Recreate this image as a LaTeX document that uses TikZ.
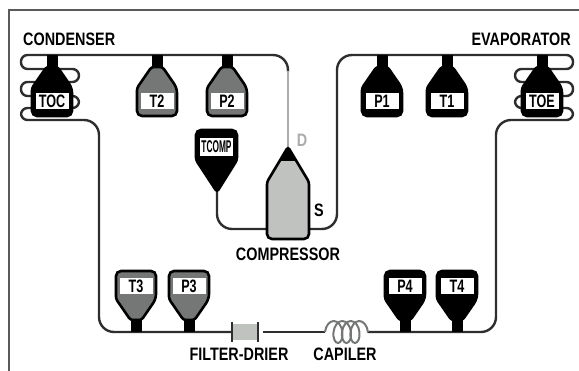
\documentclass[tikz,border=0pt]{standalone}
\usepackage{fontspec}
\setmainfont{Liberation Sans}
\newfontfamily\titlefont{Liberation Sans}[FakeStretch=.8]
\newfontfamily\tagfont{Liberation Sans}[FakeStretch=.7]
\newfontfamily\tinytagfont{Liberation Sans}[FakeStretch=.49]
\usetikzlibrary{decorations.pathmorphing}
\definecolor{pipecol}{HTML}{2E2E2E}
\definecolor{hotline}{HTML}{ABABAB}
\definecolor{midgray}{HTML}{757777}
\definecolor{shell}{HTML}{C0C2C0}
\definecolor{framecol}{HTML}{5A5A5A}
\tikzset{
  pipe/.style={draw=pipecol, line width=2.4pt, line join=round},
  title/.style={font=\titlefont\fontsize{18}{18}\selectfont\bfseries, text=black, inner sep=0pt},
  tag/.style={fill=white, minimum width=33pt, minimum height=16.5pt, inner sep=0pt, text=black,
    font=\tagfont\fontsize{18}{18}\selectfont\bfseries},
  pics/sensor/.style 2 args={code={
    \fill[black] (-5.5,0) rectangle (5.5,14);
    \draw[line width=2.6pt, draw=black, fill=#1, rounded corners=2.5pt]
      (-5.5,12) -- (-20,33) [rounded corners=5pt] -- (-20,61) -- (20,61) -- (20,33) [rounded corners=2.5pt] -- (5.5,12) -- cycle;
    \node[tag] (-tag) at (0,46) {#2};
  }}
}
\begin{document}
\begin{tikzpicture}[x=1pt, y=-1pt]
  \useasboundingbox (0,0) rectangle (579,371);
  \draw[framecol, line width=2.4pt] (9,371) -- (9,10) -- (579,10);

  \coordinate (discharge) at (288,147);
  \coordinate (suction) at (310,229);
  \coordinate (oilport) at (267,229);
  \coordinate (tcomptip) at (217,192);
  \coordinate (condin) at (100,55);
  \coordinate (condout) at (60,120);
  \coordinate (evapin) at (540,120);
  \coordinate (evapout) at (540,55);

  \draw[pipe, rounded corners=6.5pt] (condout) -- (21,120) -- (21,108) -- (79,108) -- (79,96) -- (21,96)
    -- (21,82) -- (79,82) -- (79,69) -- (21,69) -- (21,55) -- (condin);
  \draw[pipe, rounded corners=6.5pt] (evapin) -- (573,120) -- (573,108) -- (515,108) -- (515,96) -- (573,96)
    -- (573,82) -- (515,82) -- (515,69) -- (573,69) -- (573,55) -- (evapout);

  \draw[pipe, rounded corners=15pt] (condin) -- (288,55) -- (288,72);
  \draw[hotline, line width=2.4pt] (288,71) -- (discharge);
  \draw[pipe, rounded corners=15pt] (evapout) -- (337,55) -- (337,229) -- (suction);
  \draw[pipe, rounded corners=15pt] (tcomptip) -- (217,229) -- (oilport);

  \node[minimum width=26pt, minimum height=16pt, inner sep=0pt, fill=shell] (filter) at (245,332) {};
  \coordinate (capin) at (325,332);
  \coordinate (capout) at (368,332);
  \draw[pipe, rounded corners=15pt] (filter.west) -- (99,332) -- (99,120) -- (condout);
  \draw[pipe] ([xshift=5pt]filter.east) -- (capin);
  \draw[pipe, rounded corners=15pt] (capout) -- (496,332) -- (496,120) -- (evapin);
  \draw[midgray, line width=2pt, decorate, decoration={coil, aspect=.6, segment length=8.5pt, amplitude=11pt}]
    (capin) -- (capout);
  \draw[pipecol, line width=1.8pt] ([yshift=2pt]filter.north west) -- ([yshift=-2pt]filter.south west);
  \draw[pipecol, line width=1.8pt] ([yshift=2pt]filter.north east) -- ([yshift=-2pt]filter.south east);

  \draw[line width=2.6pt, fill=shell, rounded corners=2.5pt] (discharge) -- (309,182)
    [rounded corners=5pt] -- (309,239) -- (267,239) [rounded corners=2.5pt] -- (267,182) -- cycle;
  \fill[black] (discharge) -- (297,161) -- (279,161) -- cycle;

  \draw[line width=2.6pt, fill=black, rounded corners=5pt] (196,130) -- (237,130)
    [rounded corners=2.5pt] -- (237,160) -- (tcomptip) -- (196,160) [rounded corners=5pt] -- cycle;
  \node[tag, minimum height=18pt, font=\tinytagfont\fontsize{17}{17}\selectfont\bfseries] (tcomp) at (216.5,147) {TCOMP};

  \pic (toc) at (52,55) {sensor={black}{TOC}};
  \pic (t2) at (157,55) {sensor={midgray}{T2}};
  \pic (p2) at (227,55) {sensor={midgray}{P2}};
  \pic (p1) at (382,55) {sensor={black}{P1}};
  \pic (t1) at (447,55) {sensor={black}{T1}};
  \pic (toe) at (542,55) {sensor={black}{TOE}};
  \pic[yscale=-1] (t3) at (136,332) {sensor={midgray}{T3}};
  \pic[yscale=-1] (p3) at (189,332) {sensor={midgray}{P3}};
  \pic[yscale=-1] (p4) at (405,332) {sensor={black}{P4}};
  \pic[yscale=-1] (t4) at (457,332) {sensor={black}{T4}};

  \node[title, anchor=west] (condenser) at (23,39) {CONDENSER};
  \node[title, anchor=east] (evaporator) at (571,39.5) {EVAPORATOR};
  \node[title] (compressor) at (288,254) {COMPRESSOR};
  \node[title] (drier) at (239,354.5) {FILTER-DRIER};
  \node[title] (capiler) at (345,354.5) {CAPILER};
  \node[title, text=hotline] (dlabel) at (302,140) {D};
  \node[title] (slabel) at (319,210) {S};
\end{tikzpicture}
\end{document}
